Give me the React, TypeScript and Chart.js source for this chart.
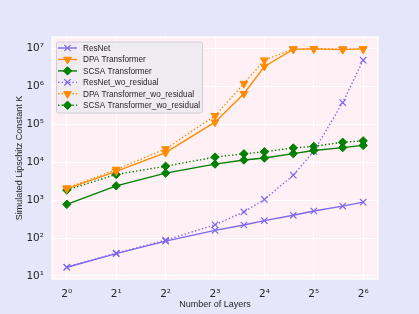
import React, { useEffect, useRef } from 'react';
import { Chart, registerables } from 'chart.js';
import { drawPoint } from 'chart.js/helpers';

Chart.register(...registerables);

// ---- data ----
const layers = [1, 2, 4, 8, 12, 16, 24, 32, 48, 64];
const resnet = [17, 39, 83, 160, 222, 290, 400, 520, 700, 890];
const dpa = [2000, 5800, 18000, 115000, 650000, 3400000, 9600000, 9900000, 9500000, 9900000];
const scsa = [780, 2400, 5200, 9000, 11500, 13000, 17000, 20500, 24500, 28000];
const resnetWo = [17, 40, 88, 225, 490, 1050, 4600, 19500, 380000, 5000000];
const dpaWo = [2100, 6500, 22500, 170000, 1200000, 5000000, 9900000, 10000000, 9800000, 9800000];
const scsaWo = [1850, 4800, 7900, 13800, 16800, 19000, 24000, 26500, 34000, 37000];

const seriesNames = [
  'ResNet',
  'DPA Transformer',
  'SCSA Transformer',
  'ResNet_wo_residual',
  'DPA Transformer_wo_residual',
  'SCSA Transformer_wo_residual',
];

const xTickValues = [1, 2, 4, 8, 16, 32, 64];
const xTickLabels = ['2⁰', '2¹', '2²', '2³', '2⁴', '2⁵', '2⁶'];
const yTickValues = [1e1, 1e2, 1e3, 1e4, 1e5, 1e6, 1e7];
const yTickLabels = ['10¹', '10²', '10³', '10⁴', '10⁵', '10⁶', '10⁷'];

const xTitle = 'Number of Layers';
const yTitle = 'Simulated Lipschitz Constant K';

// ---- styles ----
const PURPLE = '#7b68ee';
const ORANGE = '#ff8c00';
const GREEN = '#008000';
const TEXT = '#262626';
const DOT = [1.4, 2.2];

function makeSet(label: string, values: number[], color: string, style: string, rotation: number, radius: number, dashed: boolean) {
  return {
    label,
    data: layers.map((l, i) => ({ x: l, y: values[i] })),
    borderColor: color,
    backgroundColor: color,
    borderWidth: 1.4,
    borderDash: dashed ? DOT : [],
    pointStyle: style,
    pointRotation: rotation,
    pointRadius: radius,
    pointBorderWidth: style === 'crossRot' ? 1.2 : 1,
    pointBorderColor: color,
    pointBackgroundColor: color,
    tension: 0,
    fill: false,
  };
}

const bgPlugin = {
  id: 'bgPlugin',
  beforeDraw(chart: any) {
    const { ctx, chartArea: a, width, height } = chart;
    ctx.save();
    ctx.fillStyle = '#e6e6fa';
    ctx.fillRect(0, 0, width, height);
    ctx.fillStyle = '#fff0f5';
    ctx.fillRect(a.left, a.top, a.right - a.left, a.bottom - a.top);
    ctx.restore();
  },
  beforeDatasetsDraw(chart: any) {
    const { ctx, chartArea: a } = chart;
    ctx.save();
    ctx.strokeStyle = '#ffffff';
    ctx.lineWidth = 1.25;
    ctx.strokeRect(a.left, a.top, a.right - a.left, a.bottom - a.top);
    ctx.restore();
  },
};

const legendPlugin = {
  id: 'customLegend',
  afterDraw(chart: any) {
    const { ctx } = chart;
    const bx = 56.5, by = 42, bw = 146, bh = 71;
    ctx.save();
    ctx.beginPath();
    const r = 2;
    ctx.moveTo(bx + r, by);
    ctx.lineTo(bx + bw - r, by);
    ctx.quadraticCurveTo(bx + bw, by, bx + bw, by + r);
    ctx.lineTo(bx + bw, by + bh - r);
    ctx.quadraticCurveTo(bx + bw, by + bh, bx + bw - r, by + bh);
    ctx.lineTo(bx + r, by + bh);
    ctx.quadraticCurveTo(bx, by + bh, bx, by + bh - r);
    ctx.lineTo(bx, by + r);
    ctx.quadraticCurveTo(bx, by, bx + r, by);
    ctx.closePath();
    ctx.fillStyle = 'rgba(238,234,240,0.92)';
    ctx.fill();
    ctx.strokeStyle = '#d2ced6';
    ctx.lineWidth = 1;
    ctx.stroke();

    chart.data.datasets.forEach((ds: any, i: number) => {
      const y = 48 + i * 11.45;
      ctx.save();
      ctx.strokeStyle = ds.borderColor;
      ctx.lineWidth = ds.borderWidth;
      ctx.setLineDash(ds.borderDash || []);
      ctx.beginPath();
      ctx.moveTo(58, y);
      ctx.lineTo(77, y);
      ctx.stroke();
      ctx.setLineDash([]);
      ctx.fillStyle = ds.pointBackgroundColor;
      ctx.strokeStyle = ds.pointBorderColor;
      ctx.lineWidth = ds.pointBorderWidth;
      drawPoint(ctx, { pointStyle: ds.pointStyle, rotation: ds.pointRotation, radius: ds.pointRadius, borderWidth: ds.pointBorderWidth }, 67.5, y);
      ctx.restore();
      ctx.fillStyle = TEXT;
      ctx.font = '8.2px "Liberation Sans", Arial, sans-serif';
      ctx.textBaseline = 'middle';
      ctx.textAlign = 'left';
      ctx.fillText(ds.label, 83, y + 0.5);
    });
    ctx.restore();
  },
};

export default function App() {
  const ref = useRef<HTMLCanvasElement | null>(null);
  useEffect(() => {
    if (!ref.current) return;
    const chart = new Chart(ref.current, {
      type: 'line',
      data: {
        datasets: [
          makeSet(seriesNames[0], resnet, PURPLE, 'crossRot', 0, 4.5, false),
          makeSet(seriesNames[1], dpa, ORANGE, 'triangle', 180, 4.5, false),
          makeSet(seriesNames[2], scsa, GREEN, 'rectRot', 0, 4.2, false),
          makeSet(seriesNames[3], resnetWo, PURPLE, 'crossRot', 0, 4.5, true),
          makeSet(seriesNames[4], dpaWo, ORANGE, 'triangle', 180, 4.5, true),
          makeSet(seriesNames[5], scsaWo, GREEN, 'rectRot', 0, 4.2, true),
        ] as any,
      },
      options: {
        animation: false,
        responsive: false,
        devicePixelRatio: 1,
        layout: { padding: { top: 37, right: 41, left: 0, bottom: 0 } },
        plugins: {
          legend: { display: false },
          tooltip: { enabled: false },
        },
        scales: {
          x: {
            type: 'logarithmic',
            min: Math.pow(2, -0.3),
            max: Math.pow(2, 6.3),
            afterBuildTicks: (scale: any) => {
              scale.ticks = xTickValues.map((v) => ({ value: v }));
            },
            afterFit: (scale: any) => {
              scale.height = 35;
            },
            grid: { color: '#ffffff', lineWidth: 1, drawTicks: false },
            border: { display: false },
            ticks: {
              autoSkip: false,
              maxRotation: 0,
              padding: 9,
              color: TEXT,
              font: { family: '"DejaVu Sans"', size: 10.5 },
              callback: (value: any) => {
                const k = xTickValues.indexOf(Number(value));
                return k >= 0 ? xTickLabels[k] : '';
              },
            },
            title: {
              display: true,
              text: xTitle,
              color: TEXT,
              font: { family: '"Liberation Sans", Arial, sans-serif', size: 9 },
              padding: { top: 0, bottom: 4.5 },
            },
          },
          y: {
            type: 'logarithmic',
            min: Math.pow(10, 0.92),
            max: Math.pow(10, 7.31),
            afterBuildTicks: (scale: any) => {
              scale.ticks = yTickValues.map((v) => ({ value: v }));
            },
            afterFit: (scale: any) => {
              scale.width = 52;
            },
            grid: { color: '#ffffff', lineWidth: 1, drawTicks: false },
            border: { display: false },
            ticks: {
              autoSkip: false,
              padding: 8,
              color: TEXT,
              font: { family: '"DejaVu Sans"', size: 10.5 },
              callback: (value: any) => {
                const k = yTickValues.indexOf(Number(value));
                return k >= 0 ? yTickLabels[k] : '';
              },
            },
            title: {
              display: true,
              text: yTitle,
              color: TEXT,
              font: { family: '"Liberation Sans", Arial, sans-serif', size: 9 },
              padding: { top: 14, bottom: 0 },
            },
          },
        },
      } as any,
      plugins: [bgPlugin, legendPlugin],
    });
    return () => chart.destroy();
  }, []);
  return (
    <div style={{ position: 'absolute', left: 0, top: 0, width: 419, height: 314 }}>
      <canvas ref={ref} width={419} height={314} />
    </div>
  );
}
